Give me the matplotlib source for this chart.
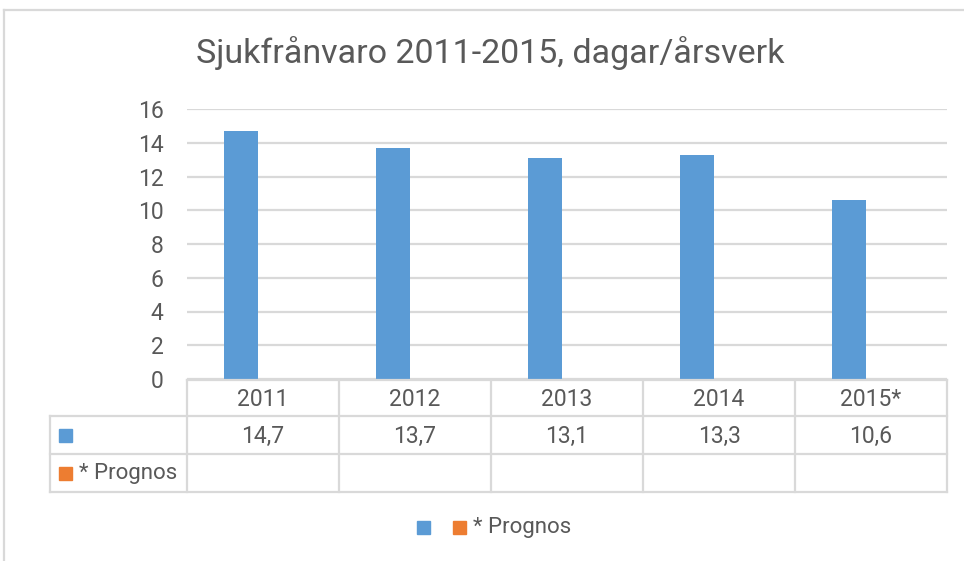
import numpy as np
import matplotlib
matplotlib.use('Agg')
import matplotlib.pyplot as plt
from matplotlib.lines import Line2D
from matplotlib.patches import Rectangle
from matplotlib.transforms import blended_transform_factory

title = 'Sjukfrånvaro 2011-2015, dagar/årsverk'
years = ['2011', '2012', '2013', '2014', '2015*']
series_names = ['', '* Prognos']
values = [14.7, 13.7, 13.1, 13.3, 10.6]
prognos = [np.nan, np.nan, np.nan, np.nan, np.nan]
yticks = [0, 2, 4, 6, 8, 10, 12, 14, 16]

blue = '#5B9BD5'
orange = '#ED7D31'
txt = '#595959'
grid = '#D9D9D9'

plt.rcParams['font.family'] = ['Roboto', 'DejaVu Sans']

W, H = 964, 561
fig = plt.figure(figsize=(W / 100, H / 100), dpi=100)


def fx(px):
    return px / W


def fy(py):
    return 1 - py / H


def hline(x0, x1, y, **kw):
    fig.add_artist(Line2D([fx(x0), fx(x1)], [fy(y), fy(y)], color=grid, lw=1.6, **kw))


def vline(x, y0, y1, **kw):
    fig.add_artist(Line2D([fx(x), fx(x)], [fy(y0), fy(y1)], color=grid, lw=1.6, **kw))


# outer chart border (only top/left visible in the crop)
hline(4, 964, 10)
vline(4, 10, 561)

left, right, top, bottom = 187, 947, 109, 379
ax = fig.add_axes([fx(left), fy(bottom), fx(right - left), (bottom - top) / H])

x = np.arange(len(years))
bw = 0.224
ax.bar(x - 0.145, values, bw, color=blue, zorder=3)
ax.bar(x - 0.145 + bw, prognos, bw, color=orange, zorder=3)

ax.set_xlim(-0.5, len(years) - 0.5)
ax.set_ylim(0, 16)
ax.set_yticks(yticks)
ax.set_yticklabels([str(t) for t in yticks])
ax.set_xticks([])
ax.tick_params(axis='y', length=0, pad=17, labelsize=16.5, labelcolor=txt)
for s in ax.spines.values():
    s.set_visible(False)
ax.yaxis.grid(True, color=grid, lw=1.6, zorder=0)
ax.set_axisbelow(True)

fig.text(fx(490), fy(53), title, ha='center', va='center', fontsize=24.5, color=txt)

# data table
r0, r1, r2, r3 = 380, 416, 454, 492
tleft = 50
hline(left, right, r0)
hline(tleft, right, r1)
hline(tleft, right, r2)
hline(tleft, right, r3)
vline(tleft, r1, r3)
vline(left, r0, r3)
for i in range(len(years)):
    xb = left + (right - left) * (i + 1) / len(years)
    vline(xb, r0, r3)

tr = blended_transform_factory(ax.transData, fig.transFigure)
for i, (yr, v) in enumerate(zip(years, values)):
    fig.text(i, fy((r0 + r1) / 2 + 1), yr, transform=tr, ha='center', va='center',
             fontsize=16.5, color=txt)
    fig.text(i, fy((r1 + r2) / 2 + 1), f'{v:.1f}'.replace('.', ','), transform=tr,
             ha='center', va='center', fontsize=16.5, color=txt)
    if not np.isnan(prognos[i]):
        fig.text(i, fy((r2 + r3) / 2 + 1), f'{prognos[i]:.1f}'.replace('.', ','),
                 transform=tr, ha='center', va='center', fontsize=16.5, color=txt)

sq = 13
for (ry0, ry1), name, col in zip([(r1, r2), (r2, r3)], series_names, [blue, orange]):
    cy = (ry0 + ry1) / 2
    fig.add_artist(Rectangle((fx(59), fy(cy + sq / 2)), sq / W, sq / H,
                             color=col, transform=fig.transFigure))
    fig.text(fx(79), fy(cy + 1), name, ha='left', va='center', fontsize=16, color=txt)

# legend
ly = 527
for x0, col in zip([417, 453], [blue, orange]):
    fig.add_artist(Rectangle((fx(x0), fy(ly + sq / 2)), sq / W, sq / H,
                             color=col, transform=fig.transFigure))
fig.text(fx(473), fy(ly + 1), series_names[1], ha='left', va='center', fontsize=16, color=txt)

fig.savefig('out.png', dpi=100)
